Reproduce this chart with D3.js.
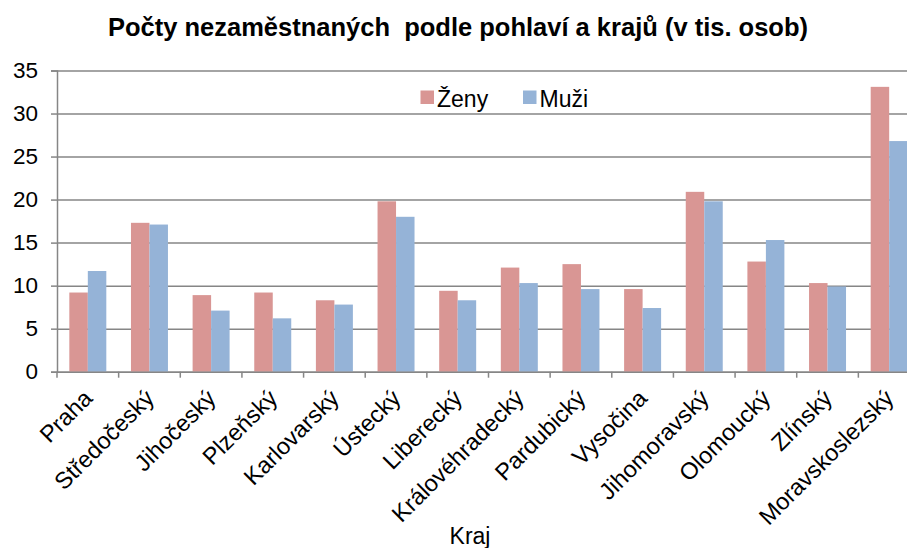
<!DOCTYPE html>
<html lang="cs">
<head>
<meta charset="UTF-8">
<script src="https://d3js.org/d3.v7.min.js"></script>
<style>
    body { margin: 0; background: #fff; }
    text { font-family: "Liberation Sans", Arial, sans-serif; fill: #000; }
</style>
</head>
<body>
<script>
    var kraje = ["Praha", "Středočeský", "Jihočeský", "Plzeňský", "Karlovarský", "Ústecký",
        "Liberecký", "Královéhradecký", "Pardubický", "Vysočina", "Jihomoravský",
        "Olomoucký", "Zlínský", "Moravskoslezský"];
    var zeny = [9.2, 17.3, 8.9, 9.2, 8.3, 19.8, 9.4, 12.1, 12.5, 9.6, 20.9, 12.8, 10.3, 33.1];
    var muzi = [11.7, 17.1, 7.1, 6.2, 7.8, 18.0, 8.3, 10.3, 9.6, 7.4, 19.8, 15.3, 9.9, 26.8];
    var serie = ["Ženy", "Muži"];
    var yTicks = [0, 5, 10, 15, 20, 25, 30, 35];
    var barvy = ["#D99694", "#95B3D7"];

    var width = 907, height = 548;
    var plotLeft = 57, plotRight = 920, plotTop = 70.5, plotBottom = 371.7;

    var svg = d3.select("body").append("svg")
        .attr("width", width)
        .attr("height", height);

    var x = d3.scaleBand().domain(kraje).range([plotLeft, plotRight]).paddingInner(0.4).paddingOuter(0.2);
    var xs = d3.scaleBand().domain(serie).range([0, x.bandwidth()]);
    var y = d3.scaleLinear().domain([0, 35]).range([plotBottom, plotTop]);

    // gridlines + y axis
    var yAxis = svg.append("g")
        .attr("transform", "translate(" + plotLeft + ",0)")
        .call(d3.axisLeft(y).tickValues(yTicks).tickSize(6).tickPadding(13));
    yAxis.select(".domain").attr("stroke", "#868686").attr("stroke-width", 1.5);
    yAxis.selectAll(".tick line").attr("stroke", "#868686").attr("stroke-width", 1.5);
    yAxis.selectAll(".tick text").attr("font-size", "22.5px").attr("font-family", "Liberation Sans, Arial, sans-serif");
    yAxis.selectAll(".tick").append("line")
        .attr("x1", 0).attr("x2", plotRight - plotLeft)
        .attr("stroke", "#868686").attr("stroke-width", 1.5);

    // bars
    var data = kraje.map(function (k, i) {
        return { kraj: k, hodnoty: [zeny[i], muzi[i]] };
    });
    var groups = svg.append("g").selectAll("g")
        .data(data).enter().append("g")
        .attr("transform", function (d) { return "translate(" + x(d.kraj) + ",0)"; });
    groups.selectAll("rect")
        .data(function (d) { return d.hodnoty.map(function (v, j) { return { s: serie[j], v: v, j: j }; }); })
        .enter().append("rect")
        .attr("x", function (d) { return xs(d.s); })
        .attr("width", xs.bandwidth())
        .attr("y", function (d) { return y(d.v); })
        .attr("height", function (d) { return y(0) - y(d.v); })
        .attr("fill", function (d) { return barvy[d.j]; });

    // x axis
    var xAxis = svg.append("g")
        .attr("transform", "translate(0," + plotBottom + ")")
        .call(d3.axisBottom(x).tickSize(0));
    xAxis.select(".domain").attr("stroke", "#868686").attr("stroke-width", 1.5);
    xAxis.selectAll(".tick text")
        .attr("font-size", "23.5px")
        .attr("font-family", "Liberation Sans, Arial, sans-serif")
        .attr("text-anchor", "end")
        .attr("y", 0)
        .attr("dy", 0)
        .attr("transform", "translate(6,28) rotate(-45)");
    // category separator ticks
    svg.append("g").selectAll("line")
        .data(kraje.concat(["_end"]))
        .enter().append("line")
        .attr("x1", function (d, i) { return plotLeft + i * x.step(); })
        .attr("x2", function (d, i) { return plotLeft + i * x.step(); })
        .attr("y1", plotBottom).attr("y2", plotBottom + 6)
        .attr("stroke", "#868686").attr("stroke-width", 1.5);

    // title
    svg.append("text")
        .attr("x", 458).attr("y", 36)
        .attr("text-anchor", "middle")
        .attr("font-size", "25.5px")
        .attr("font-weight", "bold")
        .style("white-space", "pre")
        .text("Počty nezaměstnaných  podle pohlaví a krajů (v tis. osob)");

    // axis title
    svg.append("text")
        .attr("x", 470).attr("y", 544)
        .attr("text-anchor", "middle")
        .attr("font-size", "23px")
        .text("Kraj");

    // legend
    var legend = svg.append("g").selectAll("g")
        .data(serie).enter().append("g")
        .attr("transform", function (d, i) { return "translate(" + (420.5 + i * 102.5) + ",90.5)"; });
    legend.append("rect").attr("width", 13.5).attr("height", 13.5)
        .attr("fill", function (d, i) { return barvy[i]; });
    legend.append("text").attr("x", 16.5).attr("y", 16)
        .attr("font-size", "23px")
        .text(function (d) { return d; });
</script>
</body>
</html>
